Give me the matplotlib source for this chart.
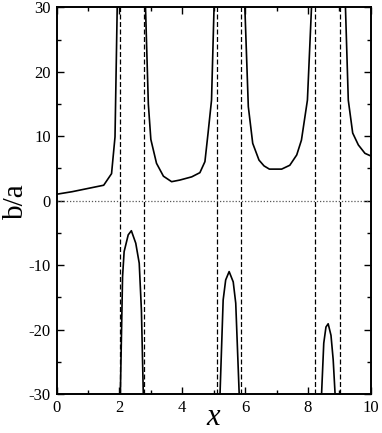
import matplotlib
matplotlib.use("Agg")
import matplotlib.pyplot as plt
from matplotlib.ticker import MultipleLocator

plt.rcParams['font.family'] = ['Liberation Serif', 'DejaVu Serif']
plt.rcParams['mathtext.fontset'] = 'custom'
plt.rcParams['mathtext.it'] = 'Liberation Serif:italic'

# upper branches (b/a > 0), one list per branch
x_up1 = [0.0, 0.5, 1.0, 1.5, 1.75, 1.86, 1.93, 1.96]
y_up1 = [1.0, 1.4, 1.9, 2.4, 4.2, 9.9, 30.0, 40.0]
x_up2 = [2.80, 2.83, 2.92, 3.0, 3.18, 3.4, 3.66, 3.92, 4.3, 4.56, 4.72, 4.82, 4.93, 5.01, 5.03]
y_up2 = [40.0, 30.0, 15.0, 9.5, 5.8, 3.8, 2.95, 3.2, 3.7, 4.35, 6.06, 10.5, 15.6, 30.0, 40.0]
x_up3 = [5.97, 5.99, 6.1, 6.24, 6.44, 6.6, 6.77, 7.16, 7.42, 7.64, 7.79, 7.98, 8.11, 8.13]
y_up3 = [40.0, 30.0, 14.6, 8.9, 6.3, 5.4, 4.9, 4.9, 5.5, 7.1, 9.4, 15.6, 30.0, 40.0]
x_up4 = [9.17, 9.19, 9.28, 9.42, 9.6, 9.81, 9.97, 10.0]
y_up4 = [40.0, 30.0, 15.6, 10.5, 8.65, 7.35, 7.0, 6.95]

# lower branches (b/a < 0)
x_lo1 = [2.02, 2.03, 2.1, 2.15, 2.28, 2.38, 2.52, 2.63, 2.7, 2.76, 2.77]
y_lo1 = [-40.0, -30.0, -11.8, -7.9, -5.3, -4.66, -6.6, -9.7, -17.0, -30.0, -40.0]
x_lo2 = [5.19, 5.2, 5.3, 5.38, 5.49, 5.62, 5.7, 5.81, 5.82]
y_lo2 = [-40.0, -30.0, -15.4, -12.3, -11.0, -12.6, -15.9, -30.0, -40.0]
x_lo3 = [8.42, 8.43, 8.5, 8.57, 8.64, 8.73, 8.8, 8.86, 8.87]
y_lo3 = [-40.0, -30.0, -22.1, -19.6, -19.1, -20.9, -24.7, -30.0, -40.0]

# asymptotes
x_asym = [2.01, 2.78, 5.09, 5.88, 8.23, 9.02]

# axis ticks
y_ticks = [-30, -20, -10, 0, 10, 20, 30]
x_ticks = [0, 2, 4, 6, 8, 10]

fig = plt.figure(figsize=(3.82, 4.33), dpi=100)
ax = fig.add_axes([0.148, 0.090, 0.823, 0.893])

for xs, ys in [(x_up1, y_up1), (x_up2, y_up2), (x_up3, y_up3), (x_up4, y_up4),
               (x_lo1, y_lo1), (x_lo2, y_lo2), (x_lo3, y_lo3)]:
    ax.plot(xs, ys, color='black', lw=1.2)

for xa in x_asym:
    ax.axvline(xa, color='black', lw=0.9, ls=(0, (4, 2)))
ax.axhline(0, color='#555555', lw=0.9, ls=(0, (1, 1.5)))

ax.set_xticks(x_ticks)
ax.set_xticklabels([str(v) for v in x_ticks])
ax.set_yticks(y_ticks)
ax.set_yticklabels([str(v) for v in y_ticks])
ax.xaxis.set_minor_locator(MultipleLocator(1))
ax.yaxis.set_minor_locator(MultipleLocator(5))
ax.set_xlim(0, 10)
ax.set_ylim(-30, 30)
ax.tick_params(which='both', direction='in', top=True, right=True, labelsize=12, width=1.0)
ax.tick_params(which='major', length=5, pad=4)
ax.tick_params(which='minor', length=3)
for s in ax.spines.values():
    s.set_linewidth(1.4)

ax.set_xlabel(r'$x$', fontsize=22, labelpad=-9)
ax.set_ylabel('b/a', fontsize=21, labelpad=0)

fig.savefig('out.png', dpi=100)
